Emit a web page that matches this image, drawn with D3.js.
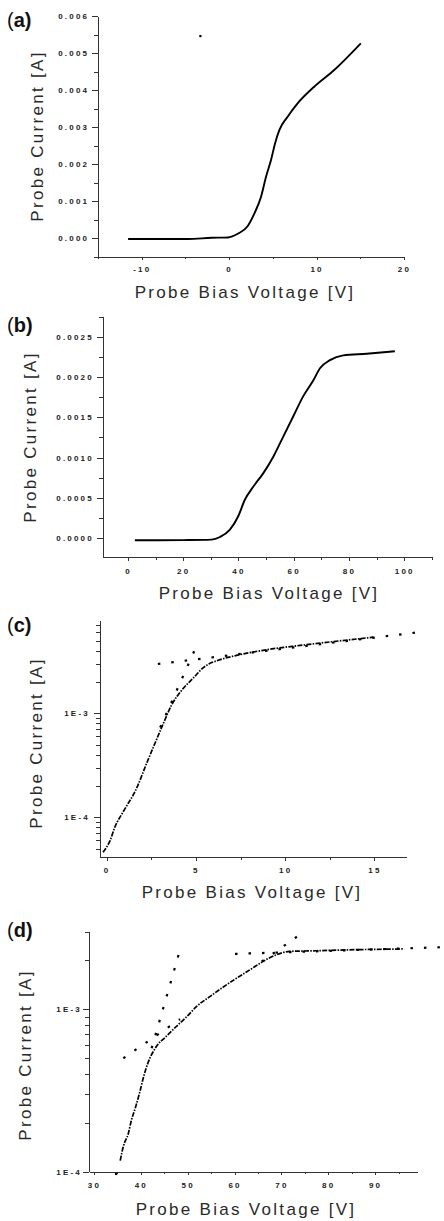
<!DOCTYPE html>
<meta charset="utf-8">
<style>
body { margin: 0; background: #fff; }
svg text { font-family: "Liberation Sans", Arial, sans-serif; }
.tick text { font-size: 8px; letter-spacing: 2.2px; fill: #222; font-weight: bold; }
.axis path, .axis line { stroke: #333; shape-rendering: crispEdges; }
.axis-title { font-size: 17px; letter-spacing: 2.3px; fill: #2a2a2a; }
.tag { font-size: 20px; fill: #111; }
.curve { fill: none; stroke: #000; }
.fit { fill: none; stroke: #000; stroke-width: 2.2; stroke-dasharray: 2.5,11; }
</style>
<body>
<script src="https://cdnjs.cloudflare.com/ajax/libs/d3/7.8.5/d3.min.js"></script>
<script>

// ---- (a) ----
var aVolt = [-11.56, -8, -4.7, -2, -0.15, 0.99, 2.13, 2.89, 3.65, 4.22, 4.79, 5.25, 5.74, 6.69, 7.83, 9.73, 12.02, 15.06];
var aCurr = [-0.00002, -0.00002, -0.00002, 0.00001, 0.00002, 0.00012, 0.00033, 0.00067, 0.00112, 0.00166, 0.00211, 0.00256, 0.00292, 0.00328, 0.00364, 0.00409, 0.00454, 0.00526];
var aStrayVolt = [-3.3], aStrayCurr = [0.00546];
var aXTicks = [-10, 0, 10, 20], aXMinor = [-15, -5, 5, 15];
var aYTicks = [0, 0.001, 0.002, 0.003, 0.004, 0.005, 0.006];
var aYMinor = [-0.0005, 0.0005, 0.0015, 0.0025, 0.0035, 0.0045, 0.0055];

// ---- (b) ----
var bVolt = [2.5, 10, 20, 30.2, 33.3, 36.9, 39.9, 42.3, 45.4, 49.0, 52.6, 56.2, 59.8, 63.4, 67.1, 69.5, 73.1, 77.9, 86.4, 96.6];
var bCurr = [-0.000029, -0.000028, -0.000026, -0.00002, 0.000012, 0.000103, 0.00027, 0.000475, 0.00064, 0.000806, 0.00101, 0.00126, 0.00151, 0.00176, 0.00196, 0.00211, 0.00221, 0.00227, 0.00229, 0.00232];
var bXTicks = [0, 20, 40, 60, 80, 100], bXMinor = [10, 30, 50, 70, 90, 110];
var bYTicks = [0, 0.0005, 0.001, 0.0015, 0.002, 0.0025];
var bYMinor = [0.00025, 0.00075, 0.00125, 0.00175, 0.00225, 0.00275];

// ---- (c) ----
var cVolt = [-0.2, 0.2, 0.47, 0.93, 1.68, 2.24, 2.71, 3.18, 3.64, 4.21, 4.86, 5.42, 5.75, 6.17, 7.48, 8.97, 10.84, 12.7, 14.95];
var cCurr = [4.6e-5, 6.0e-5, 8.1e-5, 1.13e-4, 1.9e-4, 3.3e-4, 5.15e-4, 8.0e-4, 1.2e-3, 1.67e-3, 2.19e-3, 2.75e-3, 3.0e-3, 3.2e-3, 3.67e-3, 4.09e-3, 4.5e-3, 4.9e-3, 5.4e-3];
var cFitAVolt = [3.0, 5.06], cFitACurr = [7.3e-4, 4.54e-3];
var cFitBVolt = [2.87, 17.42], cFitBCurr = [2.98e-3, 6.01e-3];
var cXTicks = [0, 5, 10, 15], cXMinor = [2.5, 7.5, 12.5];
var cYTicks = [1e-4, 1e-3];
var cYMinor = [5e-5, 6e-5, 7e-5, 8e-5, 9e-5, 2e-4, 3e-4, 4e-4, 5e-4, 6e-4, 7e-4, 8e-4, 9e-4, 2e-3, 3e-3, 4e-3, 5e-3, 6e-3, 7e-3];

// ---- (d) ----
var dVolt = [35.6, 36.26, 37.33, 38.0, 38.9, 39.8, 40.6, 41.5, 43.3, 45.4, 47.5, 49.8, 51.9, 54.8, 57.6, 60.4, 63.3, 66.1, 68.9, 71.8, 77.4, 84.5, 96.2];
var dCurr = [1.17e-4, 1.43e-4, 1.72e-4, 2.08e-4, 2.51e-4, 3.11e-4, 3.85e-4, 4.65e-4, 5.89e-4, 6.8e-4, 7.8e-4, 9.0e-4, 1.04e-3, 1.2e-3, 1.37e-3, 1.55e-3, 1.75e-3, 1.97e-3, 2.16e-3, 2.27e-3, 2.29e-3, 2.32e-3, 2.35e-3];
var dStrayVolt = [34.7], dStrayCurr = [9.7e-5];
var dFitAVolt = [36.26, 48.36], dFitACurr = [4.99e-4, 8.68e-4];
var dFitBVolt = [42.31, 48.36], dFitBCurr = [5.75e-4, 2.32e-3];
var dFitCVolt = [60.1, 104.6], dFitCCurr = [2.19e-3, 2.41e-3];
var dFitDVolt = [65.8, 75.19], dFitDCurr = [1.966e-3, 3.05e-3];
var dXTicks = [30, 40, 50, 60, 70, 80, 90], dXMinor = [35, 45, 55, 65, 75, 85, 95];
var dYTicks = [1e-4, 1e-3];
var dYMinor = [2e-4, 3e-4, 4e-4, 5e-4, 6e-4, 7e-4, 8e-4, 9e-4, 2e-3, 3e-3];

var svg = d3.select("body").append("svg")
    .attr("width", 444)
    .attr("height", 1221);

function zip(xs, ys) { return xs.map(function(v, i) { return [v, ys[i]]; }); }
function logLabel(d) { return "1E" + Math.round(Math.log10(d)); }

var panels = [
  { tag: "a", left: 98, right: 404, top: 16, bottom: 256.7, xdom: [-15, 20], ydom: [-0.0005, 0.006], log: false,
    tagY: 27, xTitleX: 245, xTitleY: 298, yTitleX: 43, yTitleY: 136, yPad: 2.8, xPad: 6.1,
    xt: aXTicks, xm: aXMinor, yt: aYTicks, ym: aYMinor, yfmt: d3.format(".3f"),
    curve: zip(aVolt, aCurr), stray: zip(aStrayVolt, aStrayCurr), fits: [], width: 1.9, dash: null },
  { tag: "b", left: 103.3, right: 432.7, top: 316.7, bottom: 557.3, xdom: [-8.94, 110.3], ydom: [-0.00024, 0.00275], log: false,
    tagY: 332, xTitleX: 269, xTitleY: 599, yTitleX: 36, yTitleY: 437, yPad: 3.4, xPad: 7.3,
    xt: bXTicks, xm: bXMinor, yt: bYTicks, ym: bYMinor, yfmt: d3.format(".4f"),
    curve: zip(bVolt, bCurr), stray: [], fits: [], width: 1.9, dash: null },
  { tag: "c", left: 100, right: 406, top: 620, bottom: 857.3, xdom: [-0.37, 16.77], ydom: [4.12e-5, 7.9e-3], log: true,
    tagY: 632, xTitleX: 252, xTitleY: 897.7, yTitleX: 42, yTitleY: 743, yPad: 4.1, xPad: 6.5,
    xt: cXTicks, xm: cXMinor, yt: cYTicks, ym: cYMinor, yfmt: logLabel,
    curve: zip(cVolt, cCurr), stray: [],
    fits: [zip(cFitAVolt, cFitACurr), zip(cFitBVolt, cFitBCurr)], width: 1.7, dash: "5,1.3,1.5,1.3" },
  { tag: "d", left: 89.3, right: 417.3, top: 931.7, bottom: 1171.7, xdom: [29, 99], ydom: [1e-4, 3e-3], log: true,
    tagY: 937, xTitleX: 246, xTitleY: 1215, yTitleX: 31, yTitleY: 1055, yPad: 1.3, xPad: 7.1,
    xt: dXTicks, xm: dXMinor, yt: dYTicks, ym: dYMinor, yfmt: logLabel,
    curve: zip(dVolt, dCurr), stray: zip(dStrayVolt, dStrayCurr),
    fits: [zip(dFitAVolt, dFitACurr), zip(dFitBVolt, dFitBCurr), zip(dFitCVolt, dFitCCurr), zip(dFitDVolt, dFitDCurr)],
    width: 1.7, dash: "5,1.3,1.5,1.3" }
];

panels.forEach(function(p) {
  var x = d3.scaleLinear().domain(p.xdom).range([p.left, p.right]);
  var y = (p.log ? d3.scaleLog() : d3.scaleLinear()).domain(p.ydom).range([p.bottom, p.top]);

  // minor ticks first, then major ticks with labels
  svg.append("g").attr("class", "axis")
      .attr("transform", "translate(0," + p.bottom + ")")
      .call(d3.axisBottom(x).tickValues(p.xm).tickSize(2.5).tickSizeOuter(0).tickFormat(""));
  svg.append("g").attr("class", "axis")
      .attr("transform", "translate(0," + p.bottom + ")")
      .call(d3.axisBottom(x).tickValues(p.xt).tickSize(3.5).tickSizeOuter(0).tickPadding(p.xPad).tickFormat(d3.format("d")));
  svg.append("g").attr("class", "axis")
      .attr("transform", "translate(" + p.left + ",0)")
      .call(d3.axisLeft(y).tickValues(p.ym).tickSize(4).tickSizeOuter(0).tickFormat(""));
  svg.append("g").attr("class", "axis")
      .attr("transform", "translate(" + p.left + ",0)")
      .call(d3.axisLeft(y).tickValues(p.yt).tickSize(6).tickSizeOuter(0).tickPadding(p.yPad).tickFormat(p.yfmt));

  svg.selectAll(".tick text").attr("font-size", null).attr("font-family", null);
  svg.selectAll(".axis").attr("font-size", null).attr("font-family", null);

  // plain hyphen on negative tick labels
  svg.selectAll(".tick text").text(function() { return this.textContent.replace("\u2212", "-"); });

  var line = d3.line()
      .x(function(d) { return x(d[0]); })
      .y(function(d) { return y(d[1]); })
      .curve(d3.curveMonotoneX);

  svg.append("path")
      .datum(p.curve)
      .attr("class", "curve")
      .attr("stroke-width", p.width)
      .attr("stroke-dasharray", p.dash)
      .attr("d", line);

  var straight = d3.line()
      .x(function(d) { return x(d[0]); })
      .y(function(d) { return y(d[1]); });

  p.fits.forEach(function(f) {
    svg.append("path").datum(f).attr("class", "fit").attr("d", straight);
  });

  svg.selectAll(null).data(p.stray).enter().append("rect")
      .attr("x", function(d) { return x(d[0]) - 1; })
      .attr("y", function(d) { return y(d[1]) - 1; })
      .attr("width", 2.2)
      .attr("height", 2.2)
      .attr("fill", "#000");

  svg.append("text")
      .attr("class", "axis-title")
      .attr("x", p.xTitleX)
      .attr("y", p.xTitleY)
      .attr("text-anchor", "middle")
      .text("Probe Bias Voltage [V]");

  svg.append("text")
      .attr("class", "axis-title")
      .attr("transform", "translate(" + p.yTitleX + "," + p.yTitleY + ") rotate(-90)")
      .attr("text-anchor", "middle")
      .text("Probe Current [A]");

  var tag = svg.append("text")
      .attr("class", "tag")
      .attr("x", 7)
      .attr("y", p.tagY);
  tag.append("tspan").text("(");
  tag.append("tspan").attr("font-weight", "bold").text(p.tag + ")");
});

</script>
</body>
